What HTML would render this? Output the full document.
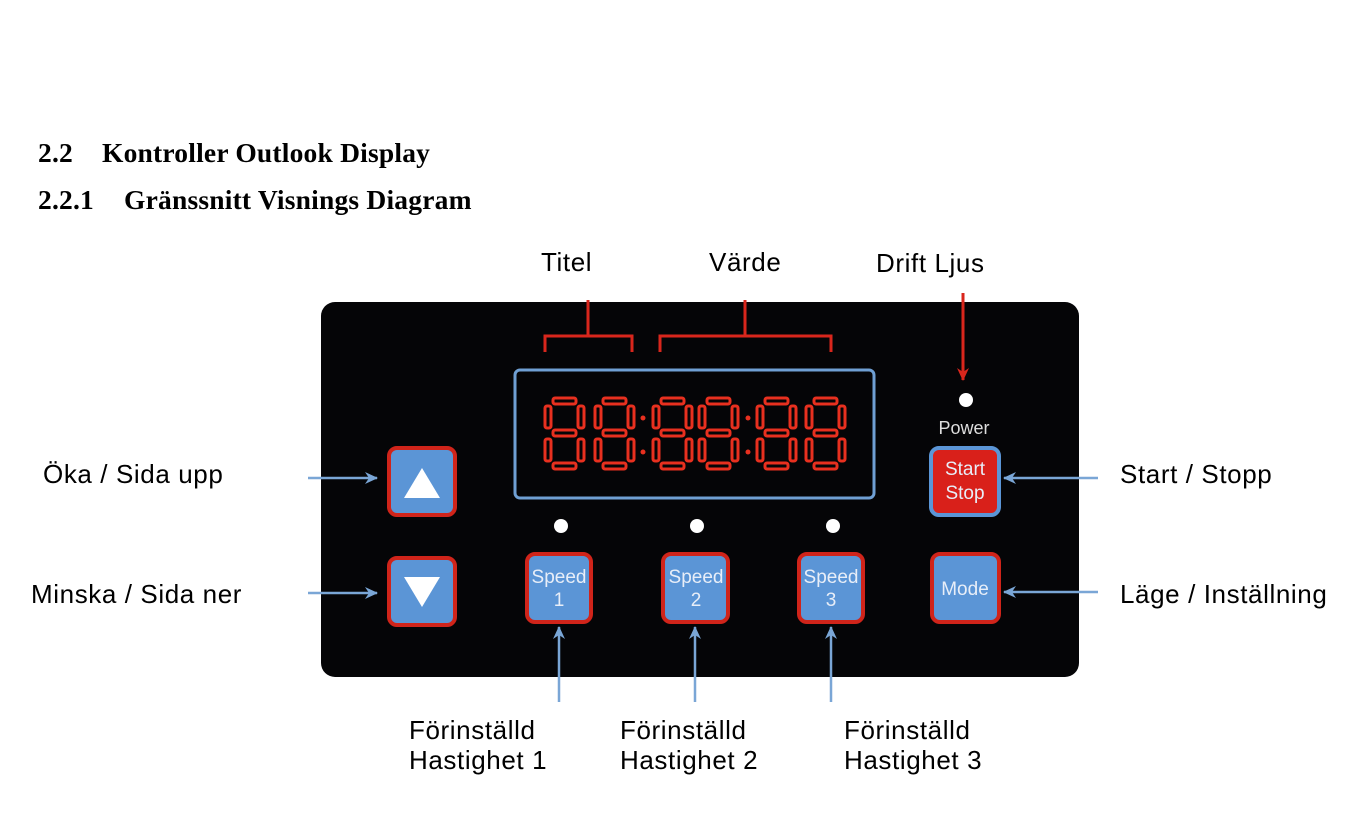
<!DOCTYPE html>
<html><head><meta charset="utf-8"><style>
body{margin:0;width:1370px;height:832px;background:#fff;position:relative;overflow:hidden;font-family:"Liberation Sans",sans-serif}
.h{position:absolute;font-family:"Liberation Serif",serif;font-weight:bold;font-size:27.5px;color:#000;white-space:pre;letter-spacing:0.2px}
.l{position:absolute;font-size:26px;color:#000;white-space:nowrap;line-height:30px;letter-spacing:0.6px}
</style></head><body>
<div class="h" style="left:38px;top:137px">2.2<span style="position:absolute;left:64px">Kontroller Outlook Display</span></div>
<div class="h" style="left:38px;top:184px">2.2.1<span style="position:absolute;left:86px">Gränssnitt Visnings Diagram</span></div>
<div class="l" style="left:541px;top:247px">Titel</div>
<div class="l" style="left:709px;top:247px">Värde</div>
<div class="l" style="left:876px;top:248px">Drift Ljus</div>
<div class="l" style="left:43px;top:459px">Öka / Sida upp</div>
<div class="l" style="left:31px;top:579px">Minska / Sida ner</div>
<div class="l" style="left:1120px;top:459px">Start / Stopp</div>
<div class="l" style="left:1120px;top:579px">Läge / Inställning</div>
<div class="l" style="left:409px;top:715px">Förinställd<br>Hastighet 1</div>
<div class="l" style="left:620px;top:715px">Förinställd<br>Hastighet 2</div>
<div class="l" style="left:844px;top:715px">Förinställd<br>Hastighet 3</div>
<svg width="1370" height="832" style="position:absolute;left:0;top:0">
<defs>
<g id="dg" fill="none" stroke="#e8301f" stroke-width="3">
<rect x="9" y="1" width="23" height="6" rx="2"/><rect x="9" y="33" width="23" height="6" rx="2"/><rect x="9" y="66" width="23" height="6" rx="2"/>
<rect x="1" y="9" width="6" height="22" rx="2"/><rect x="1" y="42" width="6" height="22" rx="2"/>
<rect x="34" y="9" width="6" height="22" rx="2"/><rect x="34" y="42" width="6" height="22" rx="2"/>
</g>
<marker id="ab" markerWidth="14" markerHeight="14" refX="12" refY="7" orient="auto" markerUnits="userSpaceOnUse"><path d="M0,1 L13,7 L0,13 L4,7Z" fill="#7aa6d6"/></marker>
<marker id="ar" markerWidth="14" markerHeight="14" refX="12" refY="7" orient="auto" markerUnits="userSpaceOnUse"><path d="M0,1 L13,7 L0,13 L4,7Z" fill="#d9261c"/></marker>
</defs>
<rect x="321" y="302" width="758" height="375" rx="14" fill="#050507"/>
<g stroke="#d9261c" stroke-width="3" fill="none">
<path d="M545,352 V336 H632 V352 M588,336 V300"/>
<path d="M660,352 V336 H831 V352 M745,336 V300"/>
</g>
<line x1="963" y1="293" x2="963" y2="380" stroke="#d9261c" stroke-width="3" marker-end="url(#ar)"/>
<rect x="515" y="370" width="359" height="128" rx="5" fill="none" stroke="#6f9fd3" stroke-width="3"/>
<use href="#dg" x="544" y="397"/><use href="#dg" x="594" y="397"/><use href="#dg" x="652" y="397"/><use href="#dg" x="698" y="397"/><use href="#dg" x="756" y="397"/><use href="#dg" x="805" y="397"/>
<g fill="#e8301f"><circle cx="643" cy="418" r="2.5"/><circle cx="643" cy="452" r="2.5"/><circle cx="748" cy="418" r="2.5"/><circle cx="748" cy="452" r="2.5"/></g>
<g fill="#fff"><circle cx="966" cy="400" r="7"/><circle cx="561" cy="526" r="7"/><circle cx="697" cy="526" r="7"/><circle cx="833" cy="526" r="7"/></g>
<text x="964" y="434" fill="#ddd" font-family="Liberation Sans" font-size="18" text-anchor="middle">Power</text>
<g stroke="#d0241a" stroke-width="4" fill="#5b95d6">
<rect x="389" y="448" width="66" height="67" rx="8"/>
<rect x="389" y="558" width="66" height="67" rx="8"/>
<rect x="527" y="554" width="64" height="68" rx="8"/>
<rect x="663" y="554" width="65" height="68" rx="8"/>
<rect x="799" y="554" width="64" height="68" rx="8"/>
<rect x="932" y="554" width="67" height="68" rx="8"/>
</g>
<rect x="931" y="448" width="68" height="67" rx="8" fill="#d9201a" stroke="#5b95d6" stroke-width="4"/>
<path d="M404,498 L422,468 L440,498Z" fill="#fff"/>
<path d="M404,577 L440,577 L422,607Z" fill="#fff"/>
<g fill="#e8eef8" font-family="Liberation Sans" font-size="19" text-anchor="middle">
<text x="559" y="583">Speed</text><text x="559" y="606">1</text>
<text x="696" y="583">Speed</text><text x="696" y="606">2</text>
<text x="831" y="583">Speed</text><text x="831" y="606">3</text>
<text x="965" y="595">Mode</text>
<text x="965" y="475">Start</text><text x="965" y="499">Stop</text>
</g>
<g stroke="#7aa6d6" stroke-width="2.5">
<line x1="308" y1="478" x2="377" y2="478" marker-end="url(#ab)"/>
<line x1="308" y1="593" x2="377" y2="593" marker-end="url(#ab)"/>
<line x1="1098" y1="478" x2="1004" y2="478" marker-end="url(#ab)"/>
<line x1="1098" y1="592" x2="1004" y2="592" marker-end="url(#ab)"/>
<line x1="559" y1="702" x2="559" y2="627" marker-end="url(#ab)"/>
<line x1="695" y1="702" x2="695" y2="627" marker-end="url(#ab)"/>
<line x1="831" y1="702" x2="831" y2="627" marker-end="url(#ab)"/>
</g>
</svg>
</body></html>
